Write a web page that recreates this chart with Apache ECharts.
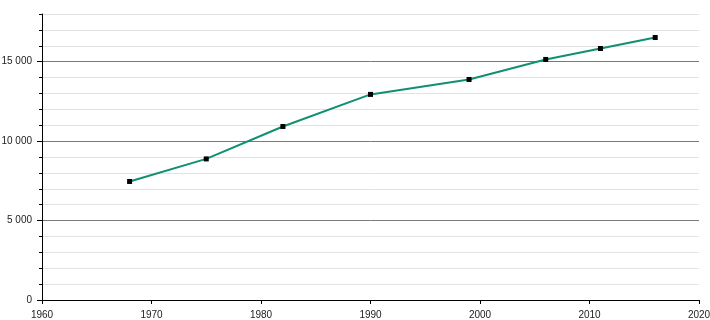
<!DOCTYPE html>
<html>
<head>
<meta charset="utf-8">
<script src="https://cdn.jsdelivr.net/npm/echarts@6/dist/echarts.min.js"></script>
<style>
html,body{margin:0;padding:0;background:#fff;}
#chart{width:710px;height:320px;}
</style>
</head>
<body>
<div id="chart"></div>
<script>
var years = [1968, 1975, 1982, 1990, 1999, 2006, 2011, 2016];
var population = [7460, 8880, 10920, 12940, 13880, 15140, 15830, 16520];
var yMajorTicks = [0, 5000, 10000, 15000];

function fmt(v) {
  return String(v).replace(/\B(?=(\d{3})+(?!\d))/g, ' ');
}

var chart = echarts.init(document.getElementById('chart'), null, {renderer: 'canvas'});
var labelFont = {fontFamily: 'Liberation Sans, Arial, sans-serif', fontSize: 10, color: '#222'};
chart.setOption({
  animation: false,
  grid: {left: 42, right: 11, top: 14, bottom: 20, containLabel: false, outerBoundsMode: 'none'},
  xAxis: {
    type: 'value', min: 1960, max: 2020, interval: 10,
    axisLine: {show: true, lineStyle: {color: '#000', width: 1}},
    axisTick: {show: true, length: 4, lineStyle: {color: '#000'}},
    axisLabel: Object.assign({margin: 10, showMinLabel: true, showMaxLabel: true, hideOverlap: false, formatter: function(v){return String(v);}}, labelFont),
    splitLine: {show: false}
  },
  yAxis: [{
    type: 'value', min: 0, max: 18000, interval: 1000,
    axisLine: {show: true, lineStyle: {color: '#000', width: 1}},
    axisTick: {show: true, length: 3, lineStyle: {color: '#000'}},
    axisLabel: Object.assign({margin: 10, formatter: function(v){return v % 5000 === 0 ? fmt(v) : '';}}, labelFont),
    splitLine: {show: true, lineStyle: {color: ['#7a7a7a', '#e2e2e2', '#e2e2e2', '#e2e2e2', '#e2e2e2'], width: 1}}
  }, {
    type: 'value', min: 0, max: 18000, position: 'left',
    axisLine: {show: false},
    axisTick: {show: true, length: 5, customValues: yMajorTicks, lineStyle: {color: '#000'}},
    axisLabel: {show: false},
    splitLine: {show: false}
  }],
  series: [{
    type: 'line',
    data: years.map(function(y, i){ return [y, population[i]]; }),
    lineStyle: {color: '#109070', width: 2},
    itemStyle: {color: '#000'},
    symbol: 'rect', symbolSize: 5, showAllSymbol: true,
    z: 3
  }]
});
</script>
</body>
</html>
